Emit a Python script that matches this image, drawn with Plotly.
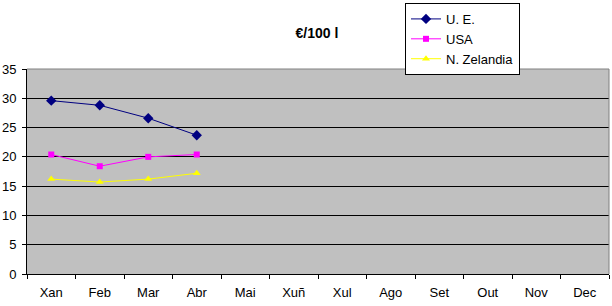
import plotly.graph_objects as go

months = ["Xan", "Feb", "Mar", "Abr", "Mai", "Xuñ", "Xul", "Ago", "Set", "Out", "Nov", "Dec"]
ue = [29.6, 28.8, 26.6, 23.7]
usa = [20.4, 18.4, 20.0, 20.4]
nz = [16.2, 15.7, 16.2, 17.2]

fig = go.Figure()
fig.add_trace(go.Scatter(x=months[:4], y=ue, name="U. E.", mode="lines+markers",
                         line=dict(color="#000080", width=1),
                         marker=dict(symbol="diamond", size=8, color="#000080")))
fig.add_trace(go.Scatter(x=months[:4], y=usa, name="USA", mode="lines+markers",
                         line=dict(color="#FF00FF", width=1),
                         marker=dict(symbol="square", size=6, color="#FF00FF")))
fig.add_trace(go.Scatter(x=months[:4], y=nz, name="N. Zelandia", mode="lines+markers",
                         line=dict(color="#FFFF00", width=1),
                         marker=dict(symbol="triangle-up", size=7, color="#FFFF00")))

fig.update_layout(
    width=612, height=306,
    margin=dict(l=27, r=3, t=66, b=32),
    paper_bgcolor="white", plot_bgcolor="#C0C0C0",
    font=dict(family="Liberation Sans, Arial", size=13, color="black"),
    title=dict(text="<b>€/100 l</b>", x=317 / 612, xanchor="center", xref="container",
               y=1 - 33 / 306, yanchor="middle", yref="container",
               font=dict(size=14, color="black")),
    legend=dict(x=(405 - 27) / 582, xanchor="left", y=275 / 208, yanchor="top",
                bgcolor="white", bordercolor="black", borderwidth=1,
                font=dict(size=13), tracegroupgap=0, itemwidth=30),
    showlegend=True,
)
fig.update_xaxes(type="category", categoryorder="array", categoryarray=months,
                 range=[-0.5, 11.5], showgrid=False, showline=True, linecolor="black",
                 linewidth=1, ticks="outside", tickson="boundaries", ticklen=4,
                 tickcolor="black", zeroline=False, ticklabelstandoff=6,
                 tickfont=dict(size=13))
fig.update_yaxes(range=[0, 35], dtick=5, showgrid=True, gridcolor="black", gridwidth=1,
                 showline=True, linecolor="black", linewidth=1, ticks="outside",
                 ticklen=4, tickcolor="black", zeroline=False, ticklabelstandoff=3,
                 tickfont=dict(size=13))
# gray border on top and right of the plot area
fig.add_shape(type="line", xref="paper", yref="paper", x0=0, x1=1, y0=1, y1=1,
              line=dict(color="#808080", width=1))
fig.add_shape(type="line", xref="paper", yref="paper", x0=1, x1=1, y0=0, y1=1,
              line=dict(color="#808080", width=1))

fig.write_html("out.html")
